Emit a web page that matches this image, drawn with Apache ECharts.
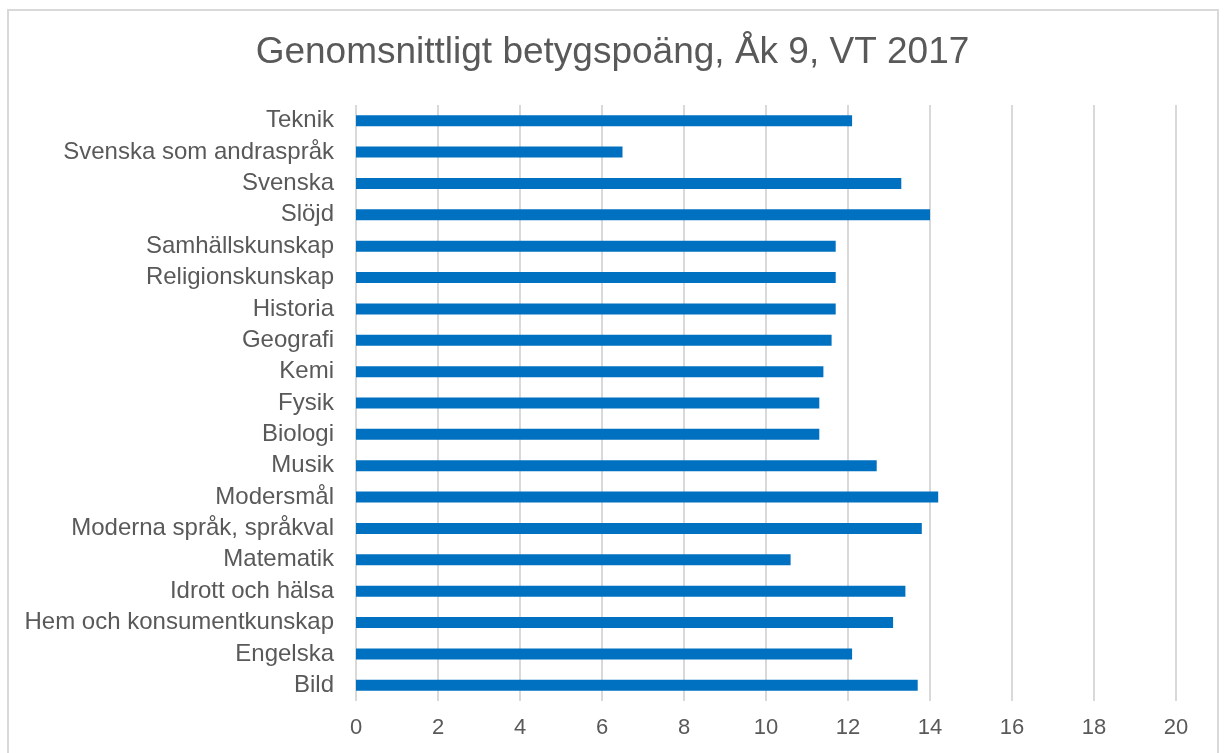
<!DOCTYPE html>
<html>
<head>
<meta charset="utf-8">
<script src="https://cdn.jsdelivr.net/npm/echarts@6/dist/echarts.min.js"></script>
<style>
  html, body { margin: 0; padding: 0; background: #fff; }
  #chart { width: 1225px; height: 753px; }
</style>
</head>
<body>
<div id="chart"></div>
<script>
// amnen, nerifran och upp (category axis starts at bottom)
var subjects = ['Bild', 'Engelska', 'Hem och konsumentkunskap', 'Idrott och hälsa', 'Matematik',
    'Moderna språk, språkval', 'Modersmål', 'Musik', 'Biologi', 'Fysik', 'Kemi', 'Geografi',
    'Historia', 'Religionskunskap', 'Samhällskunskap', 'Slöjd', 'Svenska',
    'Svenska som andraspråk', 'Teknik'];
var meritPoints = [13.7, 12.1, 13.1, 13.4, 10.6, 13.8, 14.2, 12.7, 11.3, 11.3, 11.4, 11.6,
    11.7, 11.7, 11.7, 14.0, 13.3, 6.5, 12.1];
var xTicks = [0, 2, 4, 6, 8, 10, 12, 14, 16, 18, 20];

var font = '"Liberation Sans", Arial, sans-serif';

var option = {
    backgroundColor: '#fff',
    animation: false,
    title: {
        text: 'Genomsnittligt betygspoäng, Åk 9, VT 2017',
        left: 'center',
        top: 29,
        textStyle: {
            fontFamily: font,
            fontSize: 37,
            fontWeight: 'normal',
            color: '#595959'
        }
    },
    graphic: [
        {
            type: 'rect',
            shape: { x: 8, y: 10, width: 1210, height: 780 },
            style: { fill: 'none', stroke: '#d9d9d9', lineWidth: 2 },
            silent: true
        }
    ],
    grid: {
        left: 356,
        right: 49,
        top: 105,
        bottom: 52
    },
    xAxis: {
        type: 'value',
        min: xTicks[0],
        max: xTicks[xTicks.length - 1],
        interval: 2,
        axisLine: { show: false },
        axisTick: { show: false },
        axisLabel: {
            margin: 16,
            fontFamily: font,
            fontSize: 22,
            color: '#595959'
        },
        splitLine: {
            show: true,
            lineStyle: { color: '#d9d9d9', width: 2 }
        }
    },
    yAxis: {
        type: 'category',
        data: subjects,
        axisLine: { show: false },
        axisTick: { show: false },
        axisLabel: {
            margin: 22,
            fontFamily: font,
            fontSize: 24,
            color: '#595959'
        }
    },
    series: [
        {
            name: 'Betygspoäng',
            type: 'bar',
            barWidth: 11,
            itemStyle: { color: '#0070C0' },
            data: meritPoints
        }
    ]
};

var myChart = echarts.init(document.getElementById('chart'));
myChart.setOption(option);
</script>
</body>
</html>
